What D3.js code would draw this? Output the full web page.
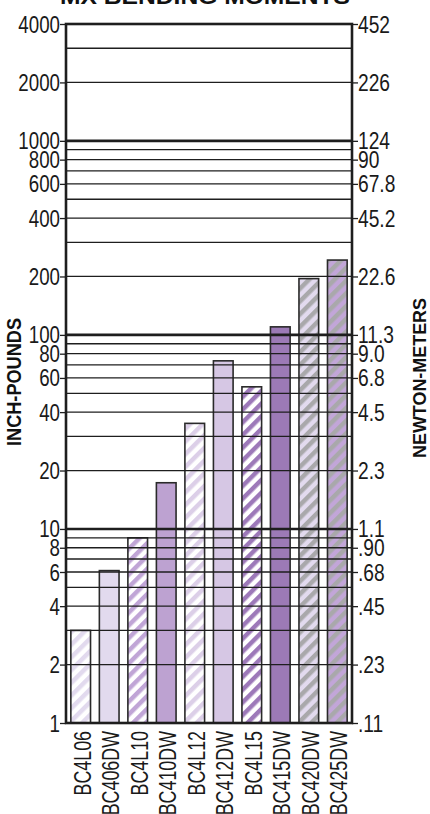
<!DOCTYPE html>
<html><head><meta charset="utf-8">
<script src="https://cdn.jsdelivr.net/npm/d3@7"></script>
<style>body{margin:0;background:#fff}svg{display:block}</style>
</head><body><svg id="c" width="430" height="814"></svg>
<script>
const categories = ["BC4L06","BC406DW","BC4L10","BC410DW","BC4L12","BC412DW","BC4L15","BC415DW","BC420DW","BC425DW"];
const values = [3, 6.1, 9, 17.3, 35, 73.5, 54, 110, 195, 243];
const leftTicks = [1,2,4,6,8,10,20,40,60,80,100,200,400,600,800,1000,2000,4000];
const leftLabels = ["1","2","4","6","8","10","20","40","60","80","100","200","400","600","800","1000","2000","4000"];
const rightLabels = [".11",".23",".45",".68",".90","1.1","2.3","4.5","6.8","9.0","11.3","22.6","45.2","67.8","90","124","226","452"];
const gridValues = [2,3,4,5,6,7,8,9,10,20,30,40,50,60,70,80,90,100,200,300,400,500,600,700,800,900,1000,2000,3000];
const majorGrid = [10,100,1000];
const fills = [
  {type:"hatch", a:"#ffffff", b:"#e2daee"},
  {type:"solid", a:"#e2daee"},
  {type:"hatch", a:"#ffffff", b:"#c0a5d6"},
  {type:"solid", a:"#bda2d1"},
  {type:"hatch", a:"#ffffff", b:"#dccfe8"},
  {type:"solid", a:"#d6c7e4"},
  {type:"hatch", a:"#ffffff", b:"#9d79b9"},
  {type:"solid", a:"#9c7ab6"},
  {type:"hatch", a:"#e2daee", b:"#a9a8ab"},
  {type:"hatch", a:"#c2a6d8", b:"#a9a8ab"}
];
const title = "MX BENDING MOMENTS";
const leftTitle = "INCH-POUNDS";
const rightTitle = "NEWTON-METERS";

const svg = d3.select("#c");
const L = 66, R = 352, T = 24, B = 723;
const font = "'Liberation Sans', Arial, sans-serif";

const y = d3.scaleLog().domain([1,4000]).range([B,T]);
const x = d3.scaleBand().domain(categories).range([L,R]).paddingInner(0.31).paddingOuter(0.17);

const defs = svg.append("defs");
fills.forEach((f,i)=>{
  if(f.type!=="hatch") return;
  const p = defs.append("pattern").attr("id","p"+i).attr("patternUnits","userSpaceOnUse")
    .attr("width",9).attr("height",9).attr("patternTransform","rotate(-45)");
  p.append("rect").attr("width",9).attr("height",9).attr("fill",f.a);
  p.append("rect").attr("width",9).attr("height",4.5).attr("fill",f.b);
});

// title (cut off at top as in the reference)
svg.append("text").attr("x",205).attr("y",4).attr("text-anchor","middle")
  .attr("font-family",font).attr("font-weight","bold").attr("font-size",22)
  .attr("textLength",290).attr("lengthAdjust","spacingAndGlyphs").attr("fill","#111").text(title);

// bars
svg.append("g").selectAll("rect").data(categories).join("rect")
  .attr("x",d=>x(d)).attr("width",x.bandwidth())
  .attr("y",(d,i)=>y(values[i])).attr("height",(d,i)=>B-y(values[i]))
  .attr("fill",(d,i)=>fills[i].type==="hatch"?`url(#p${i})`:fills[i].a)
  .attr("stroke","#2a2a2a").attr("stroke-width",1.6);

// grid lines
svg.append("g").selectAll("line").data(gridValues).join("line")
  .attr("x1",L).attr("x2",R).attr("y1",d=>y(d)).attr("y2",d=>y(d))
  .attr("stroke","#1e1e1e").attr("stroke-width",d=>majorGrid.includes(d)?2.6:1.3);

// frame
svg.append("rect").attr("x",L).attr("y",T).attr("width",R-L).attr("height",B-T)
  .attr("fill","none").attr("stroke","#1e1e1e").attr("stroke-width",2.6);

// left axis
const la = d3.axisLeft(y).tickValues(leftTicks).tickFormat((d,i)=>leftLabels[i]).tickSize(6);
const lg = svg.append("g").attr("transform",`translate(${L},0)`).call(la);
lg.select(".domain").remove();
lg.selectAll(".tick line").attr("stroke","#1e1e1e").attr("stroke-width",1.3);
lg.selectAll(".tick text").attr("x",0).attr("dy",null).attr("y",8)
  .attr("transform","translate(-6,0) scale(0.78,1)")
  .attr("font-family",font).attr("font-size",24).attr("fill","#1a1a1a");

// right axis
const ra = d3.axisRight(y).tickValues(leftTicks).tickFormat((d,i)=>rightLabels[i]).tickSize(6);
const rg = svg.append("g").attr("transform",`translate(${R},0)`).call(ra);
rg.select(".domain").remove();
rg.selectAll(".tick line").attr("stroke","#1e1e1e").attr("stroke-width",1.3);
rg.selectAll(".tick text").attr("x",0).attr("dy",null).attr("y",8)
  .attr("transform","translate(6,0) scale(0.8,1)")
  .attr("font-family",font).attr("font-size",24).attr("fill","#1a1a1a");

// category labels
svg.append("g").selectAll("text").data(categories).join("text")
  .attr("transform",d=>`translate(${x(d)+x.bandwidth()/2+10},731) rotate(-90) scale(0.76,1)`)
  .attr("text-anchor","end").attr("font-family",font).attr("font-size",23.5)
  .attr("fill","#1a1a1a").text(d=>d);

// axis titles
svg.append("text").attr("transform","translate(21,382) rotate(-90)").attr("text-anchor","middle")
  .attr("font-family",font).attr("font-weight","bold").attr("font-size",20)
  .attr("textLength",128).attr("lengthAdjust","spacingAndGlyphs").attr("fill","#111").text(leftTitle);
svg.append("text").attr("transform","translate(426,378) rotate(-90)").attr("text-anchor","middle")
  .attr("font-family",font).attr("font-weight","bold").attr("font-size",19)
  .attr("textLength",160).attr("lengthAdjust","spacingAndGlyphs").attr("fill","#111").text(rightTitle);
</script></body></html>
